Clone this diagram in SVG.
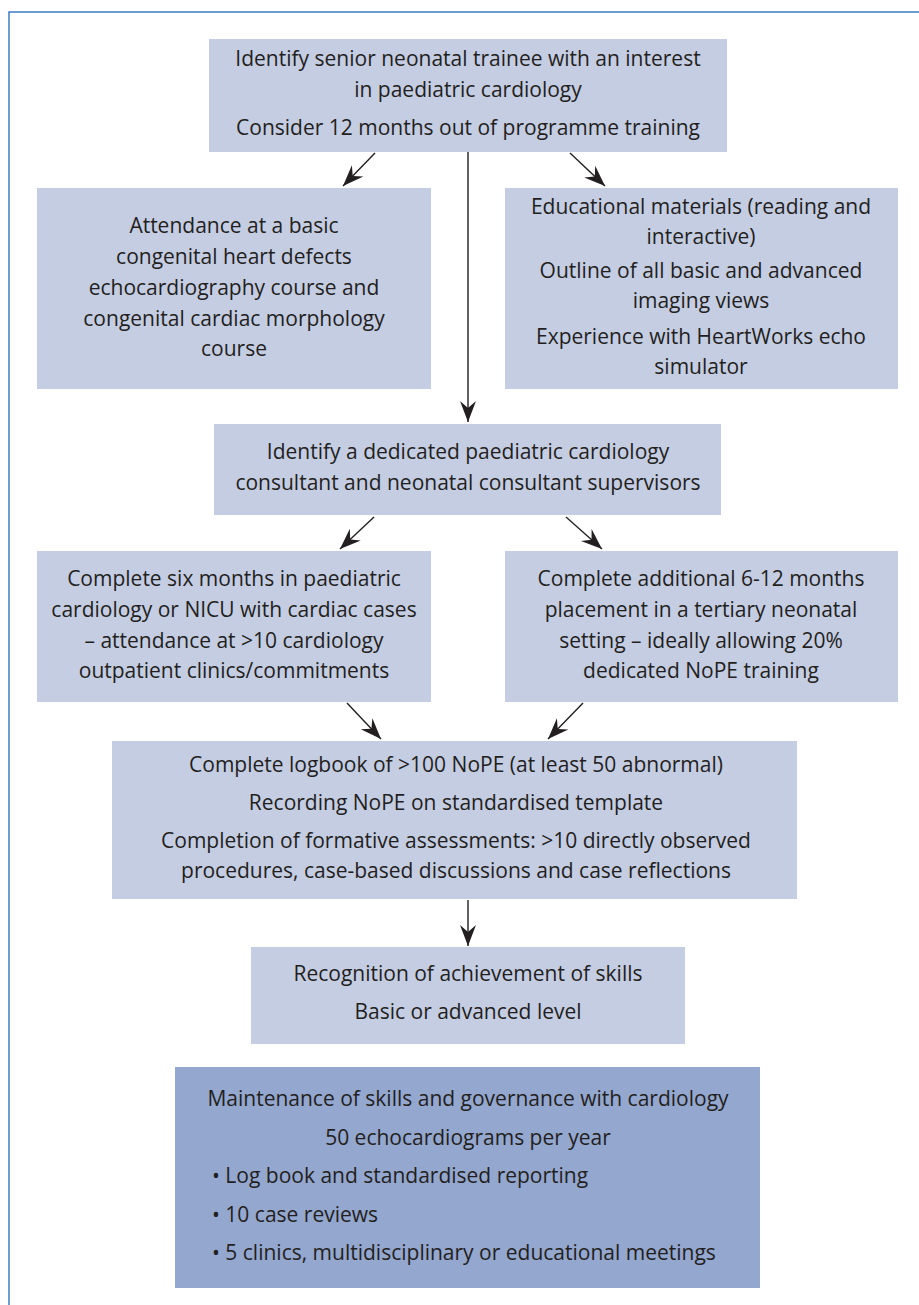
<svg xmlns="http://www.w3.org/2000/svg" width="919" height="1305" viewBox="0 0 919 1305">
<style>
.box{fill:#c5cde3}
.dark{fill:#93a7cf}
text{font-family:"Open Sans","Noto Sans",sans-serif;font-size:21px;fill:#231f20;text-anchor:middle}
.l{text-anchor:start}
.c{stroke:#231f20;stroke-width:1.4;fill:none}
</style>
<defs>
<marker id="ah" markerUnits="userSpaceOnUse" markerWidth="26" markerHeight="20" viewBox="-23 -10 25 20" refX="0" refY="0" orient="auto">
<path d="M0,0 L-21,-8 L-14,0 L-21,8 Z" fill="#231f20"/>
</marker>
</defs>
<rect x="9" y="12" width="920" height="1300" fill="none" stroke="#3b7dc1" stroke-width="1.5"/>
<g id="connectors">
<line class="c" x1="375" y1="153" x2="343" y2="186" marker-end="url(#ah)"/>
<line class="c" x1="570" y1="153" x2="605" y2="186" marker-end="url(#ah)"/>
<line class="c" x1="468" y1="152" x2="468" y2="422" marker-end="url(#ah)"/>
<line class="c" x1="374" y1="517" x2="340" y2="549" marker-end="url(#ah)"/>
<line class="c" x1="566" y1="517" x2="602" y2="549" marker-end="url(#ah)"/>
<line class="c" x1="347" y1="703" x2="381" y2="739" marker-end="url(#ah)"/>
<line class="c" x1="583" y1="703" x2="548" y2="739" marker-end="url(#ah)"/>
<line class="c" x1="468" y1="900" x2="468" y2="946" marker-end="url(#ah)"/>
</g>
<g id="n1">
<rect class="box" x="209" y="39" width="518" height="113"/>
<text x="468" y="66">Identify senior neonatal trainee with an interest</text>
<text x="468" y="97">in paediatric cardiology</text>
<text x="468" y="135">Consider 12 months out of programme training</text>
</g>
<g id="n2">
<rect class="box" x="37" y="188" width="394" height="201"/>
<text x="234" y="233">Attendance at a basic</text>
<text x="234" y="264">congenital heart defects</text>
<text x="234" y="295">echocardiography course and</text>
<text x="234" y="326">congenital cardiac morphology</text>
<text x="234" y="356">course</text>
</g>
<g id="n3">
<rect class="box" x="505" y="188" width="393" height="201"/>
<text x="701" y="214">Educational materials (reading and</text>
<text x="701" y="244">interactive)</text>
<text x="701" y="278">Outline of all basic and advanced</text>
<text x="701" y="308">imaging views</text>
<text x="701" y="344">Experience with HeartWorks echo</text>
<text x="701" y="374">simulator</text>
</g>
<g id="n4">
<rect class="box" x="214" y="424" width="507" height="91"/>
<text x="468" y="459">Identify a dedicated paediatric cardiology</text>
<text x="468" y="490">consultant and neonatal consultant supervisors</text>
</g>
<g id="n5">
<rect class="box" x="37" y="551" width="394" height="151"/>
<text x="234" y="586">Complete six months in paediatric</text>
<text x="234" y="617">cardiology or NICU with cardiac cases</text>
<text x="234" y="648">– attendance at &gt;10 cardiology</text>
<text x="234" y="678">outpatient clinics/commitments</text>
</g>
<g id="n6">
<rect class="box" x="505" y="551" width="393" height="151"/>
<text x="701" y="586">Complete additional 6-12 months</text>
<text x="701" y="617">placement in a tertiary neonatal</text>
<text x="701" y="648">setting – ideally allowing 20%</text>
<text x="701" y="678">dedicated NoPE training</text>
</g>
<g id="n7">
<rect class="box" x="112" y="741" width="685" height="158"/>
<text x="456" y="772">Complete logbook of &gt;100 NoPE (at least 50 abnormal)</text>
<text x="456" y="810">Recording NoPE on standardised template</text>
<text x="456" y="848">Completion of formative assessments: &gt;10 directly observed</text>
<text x="456" y="878">procedures, case-based discussions and case reflections</text>
</g>
<g id="n8">
<rect class="box" x="251" y="947" width="434" height="97"/>
<text x="468" y="981">Recognition of achievement of skills</text>
<text x="468" y="1019">Basic or advanced level</text>
</g>
<g id="n9">
<rect class="dark" x="175" y="1067" width="585" height="221"/>
<text x="468" y="1106">Maintenance of skills and governance with cardiology</text>
<text x="468" y="1145">50 echocardiograms per year</text>
<text class="l" x="212" y="1183">• Log book and standardised reporting</text>
<text class="l" x="212" y="1222">• 10 case reviews</text>
<text class="l" x="212" y="1260">• 5 clinics, multidisciplinary or educational meetings</text>
</g>
</svg>
